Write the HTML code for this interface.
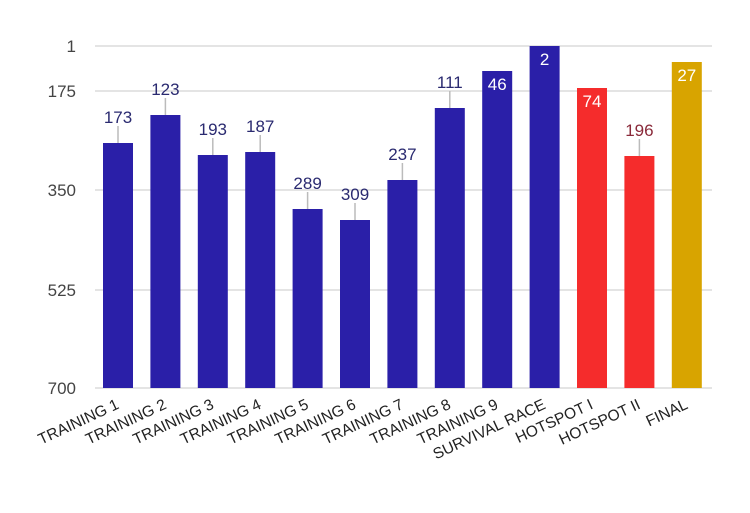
<!DOCTYPE html><html><head><style>body{margin:0;background:#fff}</style></head><body>
<svg width="750" height="508" xmlns="http://www.w3.org/2000/svg" font-family="Liberation Sans, sans-serif">
<g stroke="#dcdcdc" stroke-width="1.5">
<line x1="95" x2="712" y1="46" y2="46"/><line x1="95" x2="712" y1="91" y2="91"/><line x1="95" x2="712" y1="190" y2="190"/><line x1="95" x2="712" y1="290" y2="290"/><line x1="95" x2="712" y1="388" y2="388"/></g>
<g font-size="17" fill="#444" text-anchor="end">
<text x="76" y="52">1</text><text x="76" y="97">175</text><text x="76" y="196">350</text><text x="76" y="296">525</text><text x="76" y="394">700</text></g>
<g fill="#2a1fa8">
<rect x="103" y="143" width="30" height="245"/>
<rect x="150.4" y="115" width="30" height="273"/>
<rect x="197.8" y="155" width="30" height="233"/>
<rect x="245.2" y="152" width="30" height="236"/>
<rect x="292.6" y="209" width="30" height="179"/>
<rect x="340" y="220" width="30" height="168"/>
<rect x="387.4" y="180" width="30" height="208"/>
<rect x="434.8" y="108" width="30" height="280"/>
<rect x="482.2" y="71" width="30" height="317"/>
<rect x="529.6" y="46" width="30" height="342"/>
</g>
<rect x="577" y="88" width="30" height="300" fill="#f52c2c"/>
<rect x="624.4" y="156" width="30" height="232" fill="#f52c2c"/>
<rect x="671.8" y="62" width="30" height="326" fill="#d8a400"/>
<g stroke="#bbb" stroke-width="1.5">
<line x1="118" x2="118" y1="126" y2="143"/>
<line x1="165.4" x2="165.4" y1="98" y2="115"/>
<line x1="212.8" x2="212.8" y1="138" y2="155"/>
<line x1="260.2" x2="260.2" y1="135" y2="152"/>
<line x1="307.6" x2="307.6" y1="192" y2="209"/>
<line x1="355" x2="355" y1="203" y2="220"/>
<line x1="402.4" x2="402.4" y1="163" y2="180"/>
<line x1="449.8" x2="449.8" y1="91" y2="108"/>
<line x1="639.4" x2="639.4" y1="139" y2="156"/>
</g>
<g font-size="17" fill="#2a2a70" text-anchor="middle">
<text x="118" y="123">173</text>
<text x="165.4" y="95">123</text>
<text x="212.8" y="135">193</text>
<text x="260.2" y="132">187</text>
<text x="307.6" y="189">289</text>
<text x="355" y="200">309</text>
<text x="402.4" y="160">237</text>
<text x="449.8" y="88">111</text>
<text x="639.4" y="136" fill="#8a2a3a">196</text>
</g>
<g font-size="17" fill="#fff" text-anchor="middle">
<text x="497.2" y="90">46</text>
<text x="544.6" y="65">2</text>
<text x="592" y="107">74</text>
<text x="686.8" y="81">27</text>
</g>
<g font-size="15.5" fill="#222" text-anchor="end">
<text transform="translate(120,408) rotate(-25)">TRAINING 1</text>
<text transform="translate(167.4,408) rotate(-25)">TRAINING 2</text>
<text transform="translate(214.8,408) rotate(-25)">TRAINING 3</text>
<text transform="translate(262.2,408) rotate(-25)">TRAINING 4</text>
<text transform="translate(309.6,408) rotate(-25)">TRAINING 5</text>
<text transform="translate(357,408) rotate(-25)">TRAINING 6</text>
<text transform="translate(404.4,408) rotate(-25)">TRAINING 7</text>
<text transform="translate(451.8,408) rotate(-25)">TRAINING 8</text>
<text transform="translate(499.2,408) rotate(-25)">TRAINING 9</text>
<text transform="translate(546.6,408) rotate(-25)">SURVIVAL RACE</text>
<text transform="translate(594,408) rotate(-25)">HOTSPOT I</text>
<text transform="translate(641.4,408) rotate(-25)">HOTSPOT II</text>
<text transform="translate(688.8,408) rotate(-25)">FINAL</text>
</g>
</svg></body></html>
